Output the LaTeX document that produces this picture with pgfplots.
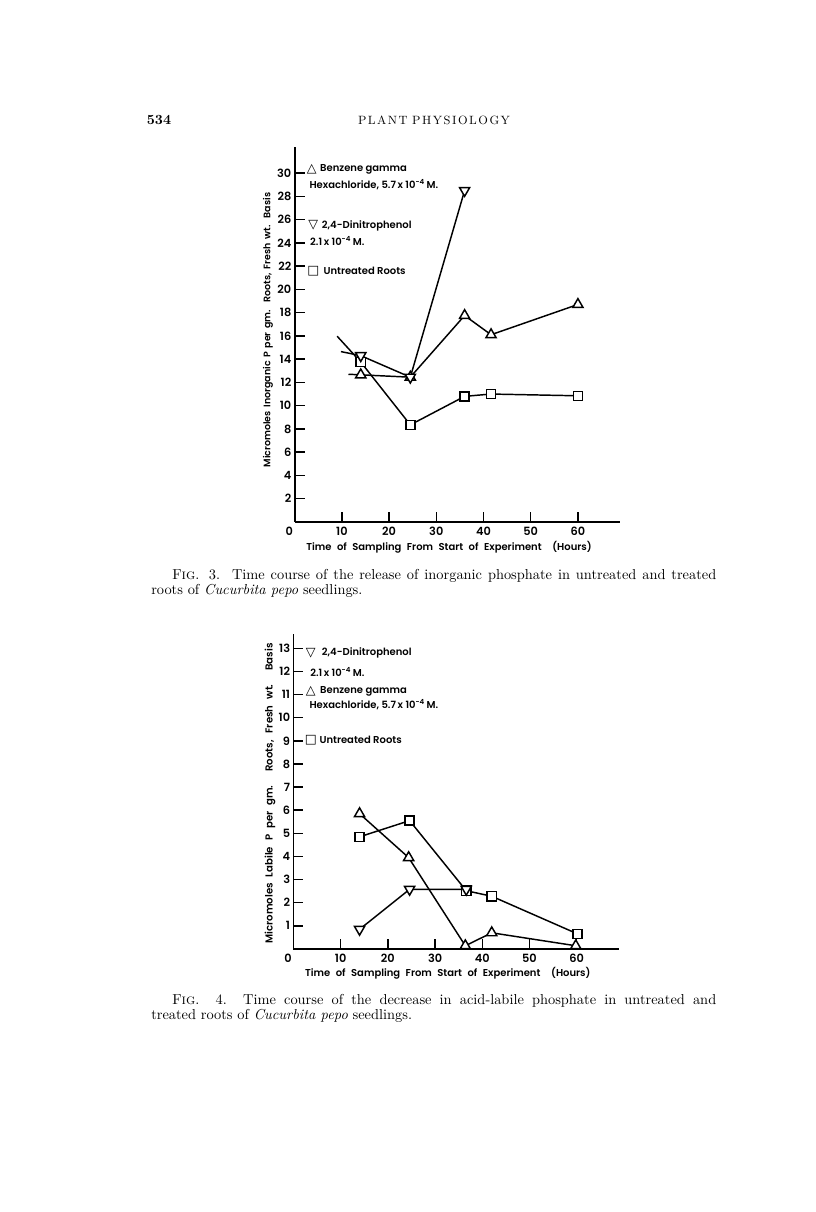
\documentclass[border=0pt]{standalone}
\usepackage{fontspec}
\usepackage{pgfplots}
\pgfplotsset{compat=1.18}
\newfontfamily\chartfont{Poppins SemiBold}
\newfontfamily\symfont{DejaVu Sans}

\pgfplotsset{
  pagestyle/.style={
    scale only axis, width=244.3pt,
    xmin=0, xmax=69, ymin=0,
    axis lines=left, axis line style={-, line width=1.3pt},
    tick align=inside, major tick length=7.5pt,
    tick style={line width=1.1pt, black},
    xtick={0,10,20,30,40,50,60},
    xticklabels={\makebox[0pt]{\hspace{-8pt}0},10,20,30,40,50,60},
    /pgf/number format/assume math mode=true,
    tick label style={font=\chartfont\fontsize{8.5}{9}\selectfont},
    yticklabel style={xshift=1pt},
    clip=false,
  },
  ser/.style={black, line width=1.1pt, mark options={solid, fill=white, line width=1.1pt}},
  tri/.style={ser, mark=triangle*, mark size=4.4pt},
  itri/.style={ser, mark=triangle*, mark size=4.4pt, mark options={rotate=180, fill=white, line width=1.1pt}},
  sq/.style={ser, mark=square*, mark size=3.4pt},
  stub/.style={black, line width=1.1pt, no marks},
}
\newcommand{\legf}{\chartfont\fontsize{7.5}{8}\selectfont}
\newcommand{\symf}{\symfont\bfseries\fontsize{9.5}{10}\selectfont}
\newcommand{\xlab}{\chartfont\fontsize{7.5}{9}\selectfont}

\begin{document}
\begin{tikzpicture}
\path[use as bounding box] (0,0) rectangle (612pt,909pt);

% header
\node[anchor=base west, inner sep=0pt, font=\fontsize{10.5}{12}\selectfont\bfseries] at (110pt,815.6pt) {534};
\node[anchor=base, inner sep=0pt, font=\fontsize{9}{9}\selectfont] at (325.5pt,815.6pt)
  {\makebox[114pt][s]{P\hfill L\hfill A\hfill N\hfill T\hfill\hfill\hfill P\hfill H\hfill Y\hfill S\hfill I\hfill O\hfill L\hfill O\hfill G\hfill Y}};

% ---------------- Fig. 3 ----------------
\begin{axis}[pagestyle, at={(221.0pt,517.5pt)}, anchor=south west,
  height=280.9pt, ymax=32.2, ytick={2,4,...,30}]
\addplot[stub] coordinates {(11.4,12.7) (14,12.65)};
\addplot[stub] coordinates {(9.8,14.65) (14,14.3)};
\addplot[stub] coordinates {(9.0,15.97) (14,13.75)};
\addplot[sq] coordinates {(14,13.75) (24.5,8.35) (36,10.8) (41.6,11.0) (60,10.85)};
\addplot[tri] coordinates {(14,12.65) (24.5,12.45) (36,17.75) (41.6,16.1) (60,18.7)};
\addplot[itri] coordinates {(14,14.3) (24.5,12.45) (36,28.5)};
% legend text
\node[anchor=center, font=\symf] at (axis cs:3.6,30.35) {△};
\node[anchor=west, inner sep=0pt, font=\legf] at (axis cs:5.36,30.3) {Benzene gamma};
\node[anchor=west, inner sep=0pt, font=\legf] at (axis cs:3.09,29.0) {Hexachloride, 5.7\,x 10\textsuperscript{-4}\,M.};
\node[anchor=center, font=\symf] at (axis cs:3.94,25.5) {▽};
\node[anchor=west, inner sep=0pt, font=\legf] at (axis cs:5.72,25.45) {2,4-Dinitrophenol};
\node[anchor=west, inner sep=0pt, font=\legf] at (axis cs:3.24,24.15) {2.1\,x 10\textsuperscript{-4}\,M.};
\node[anchor=center, font=\symf] at (axis cs:3.94,21.6) {□};
\node[anchor=west, inner sep=0pt, font=\legf] at (axis cs:6.06,21.56) {Untreated Roots};
% axis labels
\node[anchor=center, inner sep=0pt, font=\xlab] at (axis cs:32.7,-2.18)
  {\makebox[214pt][s]{Time of Sampling From Start of Experiment\hspace{8pt}(Hours)}};
\node[anchor=center, inner sep=0pt, rotate=90, font=\chartfont\fontsize{7.1}{8}\selectfont] at (axis cs:-5.66,16.5)
  {\makebox[206pt][s]{Micromoles Inorganic P per gm. Roots, Fresh wt. Basis}};
\end{axis}

\node[anchor=base west, inner sep=0pt, font=\fontsize{10.8}{12}\selectfont] at (129pt,474pt)
  {\makebox[408pt][s]{F\textsc{ig}. 3.\ \ Time course of the release of inorganic phosphate in untreated and treated}};
\node[anchor=base west, inner sep=0pt, font=\fontsize{10.8}{12}\selectfont] at (113.25pt,462.75pt)
  {roots of \textit{Cucurbita pepo} seedlings.};

% ---------------- Fig. 4 ----------------
\begin{axis}[pagestyle, at={(220.1pt,197.25pt)}, anchor=south west,
  height=235.9pt, ymax=13.6, ytick={1,2,...,13}]
\addplot[sq] coordinates {(14,4.85) (24.6,5.55) (36.6,2.52) (42,2.28) (60.2,0.65)};
\addplot[tri] coordinates {(14,5.85) (24.4,3.95) (36.4,0.14) (42,0.7) (59.8,0.14)};
\addplot[itri] coordinates {(14,0.85) (24.6,2.58) (36.6,2.58)};
% legend text
\node[anchor=center, font=\symf] at (axis cs:3.64,12.81) {▽};
\node[anchor=west, inner sep=0pt, font=\legf] at (axis cs:5.97,12.8) {2,4-Dinitrophenol};
\node[anchor=west, inner sep=0pt, font=\legf] at (axis cs:3.5,11.99) {2.1\,x 10\textsuperscript{-4}\,M.};
\node[anchor=center, font=\symf] at (axis cs:3.64,11.15) {△};
\node[anchor=west, inner sep=0pt, font=\legf] at (axis cs:5.6,11.12) {Benzene gamma};
\node[anchor=west, inner sep=0pt, font=\legf] at (axis cs:3.35,10.55) {Hexachloride, 5.7\,x 10\textsuperscript{-4}\,M.};
\node[anchor=center, font=\symf] at (axis cs:3.7,9.04) {□};
\node[anchor=west, inner sep=0pt, font=\legf] at (axis cs:5.47,9.04) {Untreated Roots};
% axis labels
\node[anchor=center, inner sep=0pt, font=\xlab] at (axis cs:32.7,-1.05)
  {\makebox[214pt][s]{Time of Sampling From Start of Experiment\hspace{8pt}(Hours)}};
\node[anchor=center, inner sep=0pt, rotate=90, font=\chartfont\fontsize{7.6}{8}\selectfont] at (axis cs:-4.98,6.73)
  {\makebox[225pt][s]{Micromoles Labile P per gm. Roots, Fresh wt. Basis}};
\end{axis}

\node[anchor=base west, inner sep=0pt, font=\fontsize{10.8}{12}\selectfont] at (129pt,155.25pt)
  {\makebox[408pt][s]{F\textsc{ig}. 4.\ \ Time course of the decrease in acid-labile phosphate in untreated and}};
\node[anchor=base west, inner sep=0pt, font=\fontsize{10.8}{12}\selectfont] at (113.25pt,144pt)
  {treated roots of \textit{Cucurbita pepo} seedlings.};

\end{tikzpicture}
\end{document}
